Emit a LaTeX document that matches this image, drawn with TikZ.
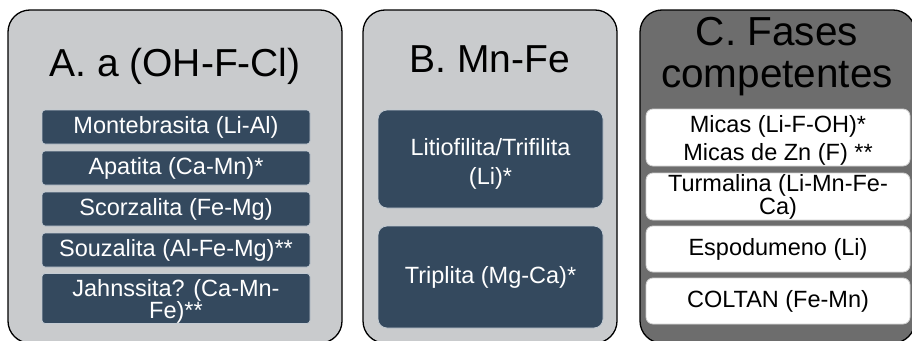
\documentclass[tikz,border=0pt]{standalone}
\usepackage{fontspec}
\setmainfont{Liberation Sans}
\definecolor{panelgray}{HTML}{C9CBCD}
\definecolor{cgray}{HTML}{6D6D6D}
\definecolor{boxblue}{HTML}{34495E}
\definecolor{boxedge}{HTML}{C3CBD3}
\definecolor{wedge}{HTML}{CFCFCF}
\begin{document}
\begin{tikzpicture}[x=1pt,y=-1pt,
  panel/.style={draw=black, line width=1.3pt, rounded corners=22pt, inner sep=0pt},
  lightpanel/.style={panel, fill=panelgray},
  darkpanel/.style={panel, fill=cgray},
  bluebox/.style={draw=boxedge, line width=0.8pt, fill=boxblue, text=white, inner sep=0pt, align=center},
  abox/.style={bluebox, rounded corners=3pt, minimum width=268pt, font=\fontsize{23.5}{22}\selectfont},
  bbox/.style={bluebox, rounded corners=9pt, minimum width=225pt, font=\fontsize{23.5}{29}\selectfont},
  cbox/.style={draw=wedge, line width=0.8pt, fill=white, text=black, rounded corners=7pt, inner sep=0pt, align=center, minimum width=264pt},
  title/.style={font=\fontsize{39}{40}\selectfont, align=center, inner sep=0pt}
]
\useasboundingbox (0,0) rectangle (912,340);
\fill[white] (0,0) rectangle (912,340);

% panels
\node[lightpanel, minimum width=334pt, minimum height=333pt] (pa) at (175,176.5) {};
\node[lightpanel, minimum width=254pt, minimum height=333pt] (pb) at (490,176.5) {};
\node[darkpanel, minimum width=275pt, minimum height=333pt] (pc) at (777.5,176.5) {};

% titles
\node[title, anchor=base] (ta) at (175,76) {A. a (OH-F-Cl)};
\node[title, anchor=base] (tb) at (490,72) {B. Mn-Fe};
\node[title, font=\fontsize{40.5}{42}\selectfont] (tc) at (777,57) {C. Fases\\competentes};

% A boxes
\node[abox, minimum height=34pt] (a1) at (176,127) {Montebrasita (Li-Al)};
\node[abox, minimum height=34pt] (a2) at (176,168) {Apatita (Ca-Mn)*};
\node[abox, minimum height=34pt] (a3) at (176,209) {Scorzalita (Fe-Mg)};
\node[abox, minimum height=34pt] (a4) at (176,250) {Souzalita (Al-Fe-Mg)**};
\node[abox, minimum height=49pt] (a5) at (176,298.5) {\rule{0pt}{23pt}Jahnssita? (Ca-Mn-\\Fe)**};

% B boxes
\node[bbox, minimum height=98pt] (b1) at (490.5,159) {\rule{0pt}{27pt}Litiofilita/Trifilita\\(Li)*};
\node[bbox, minimum height=102pt] (b2) at (490.5,277) {Triplita (Mg-Ca)*};

% C boxes
\node[cbox, minimum height=57pt, font=\fontsize{23.5}{28}\selectfont] (c1) at (778,137.5) {\rule{0pt}{22pt}Micas (Li-F-OH)*\\Micas de Zn (F) **};
\node[cbox, minimum height=47pt, font=\fontsize{23.5}{23}\selectfont] (c2) at (778,196.5) {Turmalina (Li-Mn-Fe-\\Ca)};
\node[cbox, minimum height=46pt, font=\fontsize{23.5}{23}\selectfont] (c3) at (778,249) {Espodumeno (Li)};
\node[cbox, minimum height=46pt, font=\fontsize{23.5}{23}\selectfont] (c4) at (778,301) {COLTAN (Fe-Mn)};
\end{tikzpicture}
\end{document}
